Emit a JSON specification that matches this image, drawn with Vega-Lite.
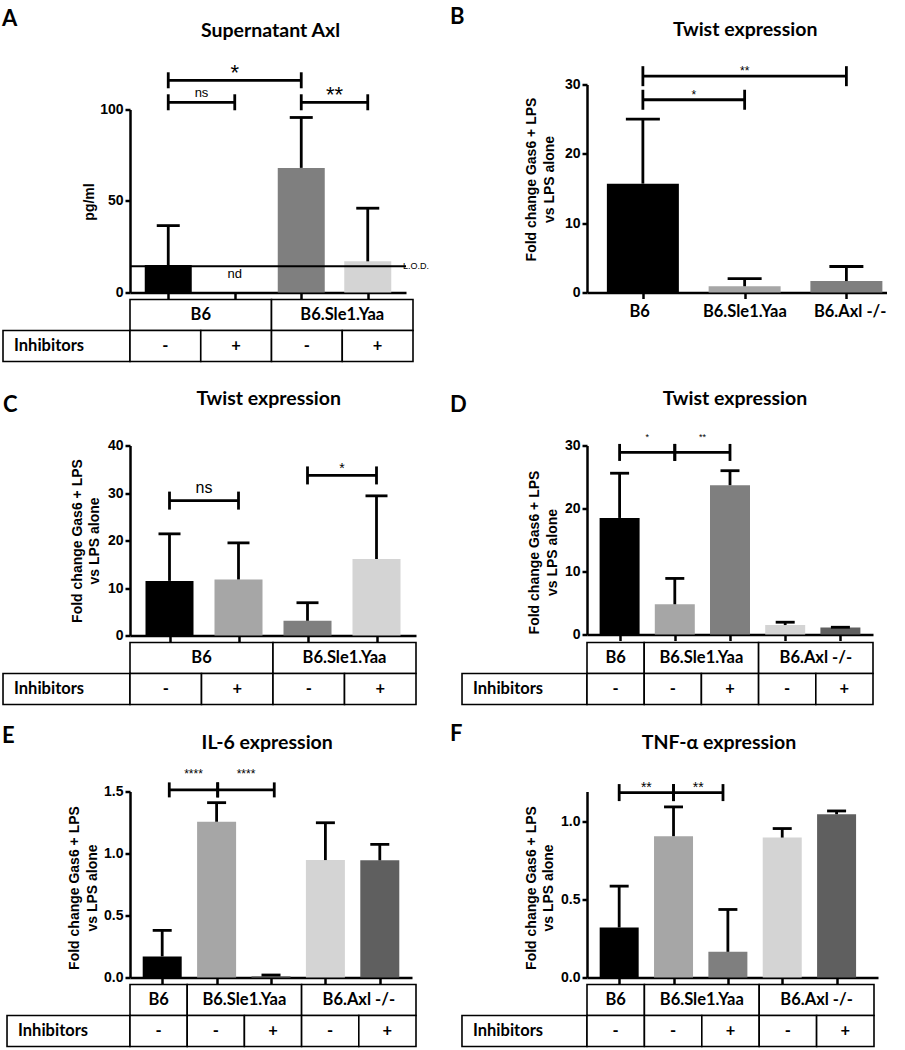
{
"$schema": "https://vega.github.io/schema/vega-lite/v6.json",
"background": "white",
"padding": {"left": 2, "top": 5.5, "right": 0, "bottom": 0},
"config": {
 "view": {"stroke": null},
 "font": "Liberation Sans",
 "axis": {"domainColor": "black", "domainWidth": 2.5, "tickColor": "black", "tickWidth": 2.5, "labelFont": "Liberation Sans", "labelFontWeight": "bold", "labelFontSize": 14, "labelColor": "black", "titleFont": "Liberation Sans", "titleFontWeight": "bold", "titleFontSize": 14, "titleColor": "black", "grid": false, "titleLineHeight": 17.5, "labelPadding": 2},
 "axisY": {"tickSize": 5},
 "axisX": {"tickSize": 6, "labels": false},
 "title": {"font": "Lato", "fontWeight": "bold", "color": "black", "fontSize": 22},
 "text": {"color": "black"},
 "rule": {"strokeWidth": 2.8, "color": "black"},
 "tick": {"thickness": 2.8, "color": "black", "opacity": 1}
},
"resolve": {"scale": {"color": "independent"}},
"datasets": {
 "barsA": [{"pos":1,"cond":"B6 -","value":15,"upper":36.5},{"pos":2,"cond":"B6 +","value":0,"note":"nd"},{"pos":3,"cond":"B6.Sle1.Yaa -","value":68,"upper":95.5},{"pos":4,"cond":"B6.Sle1.Yaa +","value":17,"upper":46}],
 "brA": [{"from":1,"to":2,"level":103.8,"label":"ns"},{"from":1,"to":3,"level":115.8,"label":"*"},{"from":3,"to":4,"level":103.8,"label":"**"}],
 "lodA": [{"lod":14.3,"label":"L.O.D."}],
 "tabA": [{"row":"s","c0":0.5,"c1":2.5,"label":"B6"},{"row":"s","c0":2.5,"c1":4.5,"label":"B6.Sle1.Yaa"},{"row":"i","c0":-1.295,"c1":0.5,"label":"Inhibitors"},{"row":"i","c0":0.5,"c1":1.5,"label":"-"},{"row":"i","c0":1.5,"c1":2.5,"label":"+"},{"row":"i","c0":2.5,"c1":3.5,"label":"-"},{"row":"i","c0":3.5,"c1":4.5,"label":"+"}],
 "barsB": [{"pos":1,"cond":"B6","value":15.7,"upper":25},{"pos":2,"cond":"B6.Sle1.Yaa","value":0.9,"upper":2.0},{"pos":3,"cond":"B6.Axl -/-","value":1.65,"upper":3.75}],
 "brB": [{"from":1,"to":2,"level":27.8,"label":"*"},{"from":1,"to":3,"level":31.2,"label":"**"}],
 "labB": [{"pos":1,"label":"B6"},{"pos":2,"label":"B6.Sle1.Yaa"},{"pos":3,"label":"B6.Axl -/-"}],
 "barsC": [{"pos":1,"cond":"B6 -","value":11.5,"upper":21.4},{"pos":2,"cond":"B6 +","value":11.8,"upper":19.5},{"pos":3,"cond":"B6.Sle1.Yaa -","value":3.1,"upper":6.9},{"pos":4,"cond":"B6.Sle1.Yaa +","value":16.1,"upper":29.4}],
 "brC": [{"from":1,"to":2,"level":28.4,"label":"ns"},{"from":3,"to":4,"level":33.7,"label":"*"}],
 "tabC": [{"row":"s","c0":0.5,"c1":2.5,"label":"B6"},{"row":"s","c0":2.5,"c1":4.5,"label":"B6.Sle1.Yaa"},{"row":"i","c0":-1.276,"c1":0.5,"label":"Inhibitors"},{"row":"i","c0":0.5,"c1":1.5,"label":"-"},{"row":"i","c0":1.5,"c1":2.5,"label":"+"},{"row":"i","c0":2.5,"c1":3.5,"label":"-"},{"row":"i","c0":3.5,"c1":4.5,"label":"+"}],
 "barsD": [{"pos":1,"cond":"B6 -","value":18.5,"upper":25.6},{"pos":2,"cond":"B6.Sle1.Yaa -","value":4.8,"upper":8.9},{"pos":3,"cond":"B6.Sle1.Yaa +","value":23.7,"upper":26.0},{"pos":4,"cond":"B6.Axl -/- -","value":1.5,"upper":1.95},{"pos":5,"cond":"B6.Axl -/- +","value":1.1,"upper":1.15}],
 "brD": [{"from":1,"to":2,"level":28.9,"label":"*"},{"from":2,"to":3,"level":28.9,"label":"**"}],
 "tabD": [{"row":"s","c0":0.5,"c1":1.5,"label":"B6"},{"row":"s","c0":1.5,"c1":3.5,"label":"B6.Sle1.Yaa"},{"row":"s","c0":3.5,"c1":5.5,"label":"B6.Axl -/-"},{"row":"i","c0":-1.685,"c1":0.5,"label":"Inhibitors"},{"row":"i","c0":0.5,"c1":1.5,"label":"-"},{"row":"i","c0":1.5,"c1":2.5,"label":"-"},{"row":"i","c0":2.5,"c1":3.5,"label":"+"},{"row":"i","c0":3.5,"c1":4.5,"label":"-"},{"row":"i","c0":4.5,"c1":5.5,"label":"+"}],
 "barsE": [{"pos":1,"cond":"B6 -","value":0.17,"upper":0.38},{"pos":2,"cond":"B6.Sle1.Yaa -","value":1.256,"upper":1.41},{"pos":3,"cond":"B6.Sle1.Yaa +","value":0.012,"upper":0.02},{"pos":4,"cond":"B6.Axl -/- -","value":0.947,"upper":1.248},{"pos":5,"cond":"B6.Axl -/- +","value":0.945,"upper":1.073}],
 "brE": [{"from":1.13,"to":2.02,"level":1.513,"label":"****"},{"from":2.02,"to":3.06,"level":1.513,"label":"****"}],
 "tabE": [{"row":"s","c0":0.5,"c1":1.5,"label":"B6"},{"row":"s","c0":1.5,"c1":3.5,"label":"B6.Sle1.Yaa"},{"row":"s","c0":3.5,"c1":5.5,"label":"B6.Axl -/-"},{"row":"i","c0":-1.65,"c1":0.5,"label":"Inhibitors"},{"row":"i","c0":0.5,"c1":1.5,"label":"-"},{"row":"i","c0":1.5,"c1":2.5,"label":"-"},{"row":"i","c0":2.5,"c1":3.5,"label":"+"},{"row":"i","c0":3.5,"c1":4.5,"label":"-"},{"row":"i","c0":4.5,"c1":5.5,"label":"+"}],
 "barsF": [{"pos":1,"cond":"B6 -","value":0.321,"upper":0.587},{"pos":2,"cond":"B6.Sle1.Yaa -","value":0.908,"upper":1.096},{"pos":3,"cond":"B6.Sle1.Yaa +","value":0.165,"upper":0.437},{"pos":4,"cond":"B6.Axl -/- -","value":0.899,"upper":0.957},{"pos":5,"cond":"B6.Axl -/- +","value":1.049,"upper":1.07}],
 "brF": [{"from":1,"to":2,"level":1.188,"label":"**"},{"from":2,"to":2.91,"level":1.188,"label":"**"}],
 "tabF": [{"row":"s","c0":0.5,"c1":1.5,"label":"B6"},{"row":"s","c0":1.5,"c1":3.5,"label":"B6.Sle1.Yaa"},{"row":"s","c0":3.5,"c1":5.5,"label":"B6.Axl -/-"},{"row":"i","c0":-1.678,"c1":0.5,"label":"Inhibitors"},{"row":"i","c0":0.5,"c1":1.5,"label":"-"},{"row":"i","c0":1.5,"c1":2.5,"label":"-"},{"row":"i","c0":2.5,"c1":3.5,"label":"+"},{"row":"i","c0":3.5,"c1":4.5,"label":"-"},{"row":"i","c0":4.5,"c1":5.5,"label":"+"}]
},
"columns": 2,
"spacing": {"row": 7, "column": 171},
"bounds": "flush",
"concat": [
 {
  "width": 276, "height": 208,
  "title": {"text": "A", "anchor": "start", "frame": "group", "dx": -128, "dy": 10.4, "offset": 0},
  "resolve": {"axis": {"x": "independent"}},
  "layer": [
   {"data": {"name": "barsA"}, "mark": {"type": "bar", "width": 47, "opacity": 1},
    "encoding": {
     "x": {"field": "pos", "type": "quantitative", "scale": {"domain": [0.5, 4.5], "nice": false, "zero": false}, "axis": {"orient": "bottom", "values": [1,2,3,4], "labels": false, "title": null}},
     "y": {"field": "value", "type": "quantitative", "stack": null, "scale": {"domain": [0, 113.5], "nice": false}, "axis": {"values": [0,50,100], "title": "pg/ml", "domainDash": [183, 400], "titlePadding": 3, "titleY": 117}},
     "color": {"field": "cond", "type": "nominal", "scale": {"domain": ["B6 -","B6 +","B6.Sle1.Yaa -","B6.Sle1.Yaa +"], "range": ["#000000","#ffffff","#7f7f7f","#d4d4d4"]}, "legend": null}}},
   {"data": {"name": "barsA"}, "transform": [{"filter": "isValid(datum.upper)"}], "mark": {"type": "rule"},
    "encoding": {"x": {"field": "pos", "type": "quantitative", "axis": null}, "y": {"field": "value", "type": "quantitative"}, "y2": {"field": "upper"}}},
   {"data": {"name": "barsA"}, "transform": [{"filter": "isValid(datum.upper)"}], "mark": {"type": "tick", "orient": "horizontal", "size": 23},
    "encoding": {"x": {"field": "pos", "type": "quantitative", "axis": null}, "y": {"field": "upper", "type": "quantitative"}}},
   {"data": {"name": "barsA"}, "transform": [{"filter": "isValid(datum.note)"}], "mark": {"type": "text", "fontSize": 13, "baseline": "alphabetic", "dy": -15},
    "encoding": {"x": {"field": "pos", "type": "quantitative", "axis": null}, "y": {"field": "value", "type": "quantitative"}, "text": {"field": "note"}}},
   {"data": {"name": "lodA"}, "mark": {"type": "rule", "strokeWidth": 2},
    "encoding": {"y": {"field": "lod", "type": "quantitative"}}},
   {"data": {"name": "lodA"}, "mark": {"type": "text", "fontSize": 9, "align": "left", "baseline": "middle", "dx": 2},
    "encoding": {"x": {"datum": 4.5, "type": "quantitative", "axis": null}, "y": {"field": "lod", "type": "quantitative"}, "text": {"field": "label"}}},
   {"data": {"name": "brA"}, "mark": {"type": "rule"},
    "encoding": {"x": {"field": "from", "type": "quantitative", "axis": {"orient": "top", "domain": false, "ticks": false, "labels": false, "title": "Supernatant Axl", "titleFont": "Lato", "titleFontSize": 19.5, "titleX": 140, "titleY": -48, "titleAlign": "center", "titleBaseline": "alphabetic", "titleAngle": 0}}, "x2": {"field": "to"}, "y": {"field": "level", "type": "quantitative"}}},
   {"data": {"name": "brA"}, "transform": [{"fold": ["from","to"], "as": ["end","xe"]}], "mark": {"type": "tick", "orient": "vertical", "size": 16},
    "encoding": {"x": {"field": "xe", "type": "quantitative", "axis": null}, "y": {"field": "level", "type": "quantitative"}}},
   {"data": {"name": "brA"}, "transform": [{"filter": "datum.label == 'ns'"}, {"fold": ["from","to"], "as": ["end","xe"]}, {"aggregate": [{"op": "mean", "field": "xe", "as": "xm"}], "groupby": ["label","level","from"]}], "mark": {"type": "text", "fontSize": 13, "baseline": "alphabetic", "dy": -5},
    "encoding": {"x": {"field": "xm", "type": "quantitative", "axis": null}, "y": {"field": "level", "type": "quantitative"}, "text": {"field": "label"}}},
   {"data": {"name": "brA"}, "transform": [{"filter": "datum.label != 'ns'"}, {"fold": ["from","to"], "as": ["end","xe"]}, {"aggregate": [{"op": "mean", "field": "xe", "as": "xm"}], "groupby": ["label","level","from"]}], "mark": {"type": "text", "fontSize": 22, "baseline": "alphabetic", "dy": 0},
    "encoding": {"x": {"field": "xm", "type": "quantitative", "axis": null}, "y": {"field": "level", "type": "quantitative"}, "text": {"field": "label"}}}
  ]
 },
 {
  "width": 300, "height": 208,
  "title": {"text": "B", "anchor": "start", "frame": "group", "dx": -137, "dy": 9.4, "offset": 0},
  "resolve": {"axis": {"x": "independent"}},
  "layer": [
   {"data": {"name": "barsB"}, "mark": {"type": "bar", "width": 72, "opacity": 1},
    "encoding": {
     "x": {"field": "pos", "type": "quantitative", "scale": {"domain": [0.5, 3.35], "nice": false, "zero": false}, "axis": {"orient": "bottom", "values": [1,2,3], "labels": false, "title": null}},
     "y": {"field": "value", "type": "quantitative", "stack": null, "scale": {"domain": [0, 30], "nice": false}, "axis": {"values": [0,10,20,30], "title": ["Fold change Gas6 + LPS", "vs LPS alone"], "titlePadding": 8.4, "titleY": 94.5}},
     "color": {"field": "cond", "type": "nominal", "scale": {"domain": ["B6","B6.Sle1.Yaa","B6.Axl -/-"], "range": ["#000000","#a6a6a6","#7f7f7f"]}, "legend": null}}},
   {"data": {"name": "barsB"}, "mark": {"type": "rule"},
    "encoding": {"x": {"field": "pos", "type": "quantitative", "axis": null}, "y": {"field": "value", "type": "quantitative"}, "y2": {"field": "upper"}}},
   {"data": {"name": "barsB"}, "mark": {"type": "tick", "orient": "horizontal", "size": 34},
    "encoding": {"x": {"field": "pos", "type": "quantitative", "axis": null}, "y": {"field": "upper", "type": "quantitative"}}},
   {"data": {"name": "brB"}, "mark": {"type": "rule"},
    "encoding": {"x": {"field": "from", "type": "quantitative", "axis": {"orient": "top", "domain": false, "ticks": false, "labels": false, "title": "Twist expression", "titleFont": "Lato", "titleFontSize": 19.5, "titleX": 157.7, "titleY": -48.7, "titleAlign": "center", "titleBaseline": "alphabetic", "titleAngle": 0}}, "x2": {"field": "to"}, "y": {"field": "level", "type": "quantitative"}}},
   {"data": {"name": "brB"}, "transform": [{"fold": ["from","to"], "as": ["end","xe"]}], "mark": {"type": "tick", "orient": "vertical", "size": 20},
    "encoding": {"x": {"field": "xe", "type": "quantitative", "axis": null}, "y": {"field": "level", "type": "quantitative"}}},
   {"data": {"name": "brB"}, "transform": [{"fold": ["from","to"], "as": ["end","xe"]}, {"aggregate": [{"op": "mean", "field": "xe", "as": "xm"}], "groupby": ["label","level","from"]}], "mark": {"type": "text", "fontSize": 12, "baseline": "alphabetic", "dy": -1},
    "encoding": {"x": {"field": "xm", "type": "quantitative", "axis": null}, "y": {"field": "level", "type": "quantitative"}, "text": {"field": "label"}}}
  ]
 },
 {
  "width": 283, "height": 139, "data": {"name": "tabA"},
  "layer": [
   {"mark": {"type": "rect", "fill": "white", "stroke": "black", "strokeWidth": 1.6},
    "encoding": {"x": {"field": "c0", "type": "quantitative", "scale": {"domain": [0.5, 4.5], "nice": false, "zero": false}, "axis": null}, "x2": {"field": "c1"}, "y": {"field": "row", "type": "nominal", "scale": {"domain": ["s","i"], "range": [0, 62], "paddingInner": 0, "paddingOuter": 0}, "axis": null}}},
   {"transform": [{"filter": "datum.label != 'Inhibitors'"}, {"fold": ["c0","c1"], "as": ["edge","cv"]}, {"aggregate": [{"op": "mean", "field": "cv", "as": "cx"}], "groupby": ["row","label","c0"]}], "mark": {"type": "text", "font": "Lato", "fontWeight": "bold", "fontSize": 16.5},
    "encoding": {"x": {"field": "cx", "type": "quantitative", "axis": null}, "y": {"field": "row", "type": "nominal", "axis": null}, "text": {"field": "label"}}},
   {"transform": [{"filter": "datum.label == 'Inhibitors'"}], "mark": {"type": "text", "font": "Lato", "fontWeight": "bold", "fontSize": 16.5, "align": "left", "dx": 11},
    "encoding": {"x": {"field": "c0", "type": "quantitative", "axis": null}, "y": {"field": "row", "type": "nominal", "axis": null}, "text": {"field": "label"}}}
  ]
 },
 {
  "width": 300, "height": 24, "data": {"name": "labB"},
  "mark": {"type": "text", "font": "Lato", "fontWeight": "bold", "fontSize": 16.5},
  "encoding": {"x": {"field": "pos", "type": "quantitative", "scale": {"domain": [0.5, 3.35], "nice": false, "zero": false}, "axis": null}, "text": {"field": "label"}}
 },
 {
  "width": 286, "height": 190,
  "title": {"text": "C", "anchor": "start", "frame": "group", "dx": -127, "dy": 29, "offset": 0},
  "resolve": {"axis": {"x": "independent"}},
  "layer": [
   {"data": {"name": "barsC"}, "mark": {"type": "bar", "width": 48, "opacity": 1},
    "encoding": {
     "x": {"field": "pos", "type": "quantitative", "scale": {"domain": [0.5, 4.5], "nice": false, "zero": false}, "axis": {"orient": "bottom", "values": [1,2,3,4], "labels": false, "title": null}},
     "y": {"field": "value", "type": "quantitative", "stack": null, "scale": {"domain": [0, 40], "nice": false}, "axis": {"values": [0,10,20,30,40], "title": ["Fold change Gas6 + LPS", "vs LPS alone"], "titlePadding": 5.6}},
     "color": {"field": "cond", "type": "nominal", "scale": {"domain": ["B6 -","B6 +","B6.Sle1.Yaa -","B6.Sle1.Yaa +"], "range": ["#000000","#a6a6a6","#7f7f7f","#d4d4d4"]}, "legend": null}}},
   {"data": {"name": "barsC"}, "mark": {"type": "rule"},
    "encoding": {"x": {"field": "pos", "type": "quantitative", "axis": null}, "y": {"field": "value", "type": "quantitative"}, "y2": {"field": "upper"}}},
   {"data": {"name": "barsC"}, "mark": {"type": "tick", "orient": "horizontal", "size": 22},
    "encoding": {"x": {"field": "pos", "type": "quantitative", "axis": null}, "y": {"field": "upper", "type": "quantitative"}}},
   {"data": {"name": "brC"}, "mark": {"type": "rule"},
    "encoding": {"x": {"field": "from", "type": "quantitative", "axis": {"orient": "top", "domain": false, "ticks": false, "labels": false, "title": "Twist expression", "titleFont": "Lato", "titleFontSize": 19.5, "titleX": 138.3, "titleY": -41.3, "titleAlign": "center", "titleBaseline": "alphabetic", "titleAngle": 0}}, "x2": {"field": "to"}, "y": {"field": "level", "type": "quantitative"}}},
   {"data": {"name": "brC"}, "transform": [{"fold": ["from","to"], "as": ["end","xe"]}], "mark": {"type": "tick", "orient": "vertical", "size": 18},
    "encoding": {"x": {"field": "xe", "type": "quantitative", "axis": null}, "y": {"field": "level", "type": "quantitative"}}},
   {"data": {"name": "brC"}, "transform": [{"filter": "datum.label == 'ns'"}, {"fold": ["from","to"], "as": ["end","xe"]}, {"aggregate": [{"op": "mean", "field": "xe", "as": "xm"}], "groupby": ["label","level","from"]}], "mark": {"type": "text", "fontSize": 16, "baseline": "alphabetic", "dy": -8},
    "encoding": {"x": {"field": "xm", "type": "quantitative", "axis": null}, "y": {"field": "level", "type": "quantitative"}, "text": {"field": "label"}}},
   {"data": {"name": "brC"}, "transform": [{"filter": "datum.label != 'ns'"}, {"fold": ["from","to"], "as": ["end","xe"]}, {"aggregate": [{"op": "mean", "field": "xe", "as": "xm"}], "groupby": ["label","level","from"]}], "mark": {"type": "text", "fontSize": 14, "baseline": "alphabetic", "dy": -2},
    "encoding": {"x": {"field": "xm", "type": "quantitative", "axis": null}, "y": {"field": "level", "type": "quantitative"}, "text": {"field": "label"}}}
  ]
 },
 {
  "width": 286, "height": 189,
  "title": {"text": "D", "anchor": "start", "frame": "group", "dx": -137, "dy": 29, "offset": 0},
  "resolve": {"axis": {"x": "independent"}},
  "layer": [
   {"data": {"name": "barsD"}, "mark": {"type": "bar", "width": 40, "opacity": 1},
    "encoding": {
     "x": {"field": "pos", "type": "quantitative", "scale": {"domain": [0.5, 5.5], "nice": false, "zero": false}, "axis": {"orient": "bottom", "values": [1,2,3,4,5], "labels": false, "title": null}},
     "y": {"field": "value", "type": "quantitative", "stack": null, "scale": {"domain": [0, 30], "nice": false}, "axis": {"values": [0,10,20,30], "title": ["Fold change Gas6 + LPS", "vs LPS alone"], "titlePadding": 5, "titleY": 106.5}},
     "color": {"field": "cond", "type": "nominal", "scale": {"domain": ["B6 -","B6.Sle1.Yaa -","B6.Sle1.Yaa +","B6.Axl -/- -","B6.Axl -/- +"], "range": ["#000000","#a6a6a6","#7f7f7f","#d4d4d4","#5f5f5f"]}, "legend": null}}},
   {"data": {"name": "barsD"}, "mark": {"type": "rule"},
    "encoding": {"x": {"field": "pos", "type": "quantitative", "axis": null}, "y": {"field": "value", "type": "quantitative"}, "y2": {"field": "upper"}}},
   {"data": {"name": "barsD"}, "mark": {"type": "tick", "orient": "horizontal", "size": 19},
    "encoding": {"x": {"field": "pos", "type": "quantitative", "axis": null}, "y": {"field": "upper", "type": "quantitative"}}},
   {"data": {"name": "brD"}, "mark": {"type": "rule"},
    "encoding": {"x": {"field": "from", "type": "quantitative", "axis": {"orient": "top", "domain": false, "ticks": false, "labels": false, "title": "Twist expression", "titleFont": "Lato", "titleFontSize": 19.5, "titleX": 147.5, "titleY": -41.3, "titleAlign": "center", "titleBaseline": "alphabetic", "titleAngle": 0}}, "x2": {"field": "to"}, "y": {"field": "level", "type": "quantitative"}}},
   {"data": {"name": "brD"}, "transform": [{"fold": ["from","to"], "as": ["end","xe"]}], "mark": {"type": "tick", "orient": "vertical", "size": 17},
    "encoding": {"x": {"field": "xe", "type": "quantitative", "axis": null}, "y": {"field": "level", "type": "quantitative"}}},
   {"data": {"name": "brD"}, "transform": [{"fold": ["from","to"], "as": ["end","xe"]}, {"aggregate": [{"op": "mean", "field": "xe", "as": "xm"}], "groupby": ["label","level","from"]}], "mark": {"type": "text", "fontSize": 9, "baseline": "alphabetic", "dy": -12},
    "encoding": {"x": {"field": "xm", "type": "quantitative", "axis": null}, "y": {"field": "level", "type": "quantitative"}, "text": {"field": "label"}}}
  ]
 },
 {
  "width": 286, "height": 142, "data": {"name": "tabC"},
  "layer": [
   {"mark": {"type": "rect", "fill": "white", "stroke": "black", "strokeWidth": 1.6},
    "encoding": {"x": {"field": "c0", "type": "quantitative", "scale": {"domain": [0.5, 4.5], "nice": false, "zero": false}, "axis": null}, "x2": {"field": "c1"}, "y": {"field": "row", "type": "nominal", "scale": {"domain": ["s","i"], "range": [0, 62], "paddingInner": 0, "paddingOuter": 0}, "axis": null}}},
   {"transform": [{"filter": "datum.label != 'Inhibitors'"}, {"fold": ["c0","c1"], "as": ["edge","cv"]}, {"aggregate": [{"op": "mean", "field": "cv", "as": "cx"}], "groupby": ["row","label","c0"]}], "mark": {"type": "text", "font": "Lato", "fontWeight": "bold", "fontSize": 16.5},
    "encoding": {"x": {"field": "cx", "type": "quantitative", "axis": null}, "y": {"field": "row", "type": "nominal", "axis": null}, "text": {"field": "label"}}},
   {"transform": [{"filter": "datum.label == 'Inhibitors'"}], "mark": {"type": "text", "font": "Lato", "fontWeight": "bold", "fontSize": 16.5, "align": "left", "dx": 11},
    "encoding": {"x": {"field": "c0", "type": "quantitative", "axis": null}, "y": {"field": "row", "type": "nominal", "axis": null}, "text": {"field": "label"}}}
  ]
 },
 {
  "width": 286, "height": 142, "data": {"name": "tabD"},
  "layer": [
   {"mark": {"type": "rect", "fill": "white", "stroke": "black", "strokeWidth": 1.6},
    "encoding": {"x": {"field": "c0", "type": "quantitative", "scale": {"domain": [0.5, 5.5], "nice": false, "zero": false}, "axis": null}, "x2": {"field": "c1"}, "y": {"field": "row", "type": "nominal", "scale": {"domain": ["s","i"], "range": [0, 62], "paddingInner": 0, "paddingOuter": 0}, "axis": null}}},
   {"transform": [{"filter": "datum.label != 'Inhibitors'"}, {"fold": ["c0","c1"], "as": ["edge","cv"]}, {"aggregate": [{"op": "mean", "field": "cv", "as": "cx"}], "groupby": ["row","label","c0"]}], "mark": {"type": "text", "font": "Lato", "fontWeight": "bold", "fontSize": 16.5},
    "encoding": {"x": {"field": "cx", "type": "quantitative", "axis": null}, "y": {"field": "row", "type": "nominal", "axis": null}, "text": {"field": "label"}}},
   {"transform": [{"filter": "datum.label == 'Inhibitors'"}], "mark": {"type": "text", "font": "Lato", "fontWeight": "bold", "fontSize": 16.5, "align": "left", "dx": 11},
    "encoding": {"x": {"field": "c0", "type": "quantitative", "axis": null}, "y": {"field": "row", "type": "nominal", "axis": null}, "text": {"field": "label"}}}
  ]
 },
 {
  "width": 282, "height": 186,
  "title": {"text": "E", "anchor": "start", "frame": "group", "dx": -128, "dy": 15.3, "offset": 0},
  "resolve": {"axis": {"x": "independent"}},
  "layer": [
   {"data": {"name": "barsE"}, "mark": {"type": "bar", "width": 39, "opacity": 1},
    "encoding": {
     "x": {"field": "pos", "type": "quantitative", "scale": {"domain": [0.5, 5.5], "nice": false, "zero": false}, "axis": {"orient": "bottom", "values": [1,2,3,4,5], "labels": false, "title": null}},
     "y": {"field": "value", "type": "quantitative", "stack": null, "scale": {"domain": [0, 1.5], "nice": false}, "axis": {"values": [0,0.5,1,1.5], "format": ".1f", "title": ["Fold change Gas6 + LPS", "vs LPS alone"], "titlePadding": 4.2, "titleY": 96}},
     "color": {"field": "cond", "type": "nominal", "scale": {"domain": ["B6 -","B6.Sle1.Yaa -","B6.Sle1.Yaa +","B6.Axl -/- -","B6.Axl -/- +"], "range": ["#000000","#a6a6a6","#7f7f7f","#d4d4d4","#5f5f5f"]}, "legend": null}}},
   {"data": {"name": "barsE"}, "mark": {"type": "rule"},
    "encoding": {"x": {"field": "pos", "type": "quantitative", "axis": null}, "y": {"field": "value", "type": "quantitative"}, "y2": {"field": "upper"}}},
   {"data": {"name": "barsE"}, "mark": {"type": "tick", "orient": "horizontal", "size": 19},
    "encoding": {"x": {"field": "pos", "type": "quantitative", "axis": null}, "y": {"field": "upper", "type": "quantitative"}}},
   {"data": {"name": "brE"}, "mark": {"type": "rule"},
    "encoding": {"x": {"field": "from", "type": "quantitative", "axis": {"orient": "top", "domain": false, "ticks": false, "labels": false, "title": "IL-6 expression", "titleFont": "Lato", "titleFontSize": 19.5, "titleX": 136.7, "titleY": -43.3, "titleAlign": "center", "titleBaseline": "alphabetic", "titleAngle": 0}}, "x2": {"field": "to"}, "y": {"field": "level", "type": "quantitative"}}},
   {"data": {"name": "brE"}, "transform": [{"fold": ["from","to"], "as": ["end","xe"]}], "mark": {"type": "tick", "orient": "vertical", "size": 15},
    "encoding": {"x": {"field": "xe", "type": "quantitative", "axis": null}, "y": {"field": "level", "type": "quantitative"}}},
   {"data": {"name": "brE"}, "transform": [{"fold": ["from","to"], "as": ["end","xe"]}, {"aggregate": [{"op": "mean", "field": "xe", "as": "xm"}], "groupby": ["label","level","from"]}], "mark": {"type": "text", "fontSize": 12, "baseline": "alphabetic", "dy": -11.5},
    "encoding": {"x": {"field": "xm", "type": "quantitative", "axis": null}, "y": {"field": "level", "type": "quantitative"}, "text": {"field": "label"}}}
  ]
 },
 {
  "width": 291, "height": 186,
  "title": {"text": "F", "anchor": "start", "frame": "group", "dx": -137, "dy": 13.7, "offset": 0},
  "resolve": {"axis": {"x": "independent"}},
  "layer": [
   {"data": {"name": "barsF"}, "mark": {"type": "bar", "width": 39, "opacity": 1},
    "encoding": {
     "x": {"field": "pos", "type": "quantitative", "scale": {"domain": [0.5, 5.67], "nice": false, "zero": false}, "axis": {"orient": "bottom", "values": [1,2,3,4,5], "labels": false, "title": null}},
     "y": {"field": "value", "type": "quantitative", "stack": null, "scale": {"domain": [0, 1.195], "nice": false}, "axis": {"values": [0,0.5,1], "format": ".1f", "title": ["Fold change Gas6 + LPS", "vs LPS alone"], "titlePadding": 4.7, "titleY": 96}},
     "color": {"field": "cond", "type": "nominal", "scale": {"domain": ["B6 -","B6.Sle1.Yaa -","B6.Sle1.Yaa +","B6.Axl -/- -","B6.Axl -/- +"], "range": ["#000000","#a6a6a6","#7f7f7f","#d4d4d4","#5f5f5f"]}, "legend": null}}},
   {"data": {"name": "barsF"}, "mark": {"type": "rule"},
    "encoding": {"x": {"field": "pos", "type": "quantitative", "axis": null}, "y": {"field": "value", "type": "quantitative"}, "y2": {"field": "upper"}}},
   {"data": {"name": "barsF"}, "mark": {"type": "tick", "orient": "horizontal", "size": 19},
    "encoding": {"x": {"field": "pos", "type": "quantitative", "axis": null}, "y": {"field": "upper", "type": "quantitative"}}},
   {"data": {"name": "brF"}, "mark": {"type": "rule"},
    "encoding": {"x": {"field": "from", "type": "quantitative", "axis": {"orient": "top", "domain": false, "ticks": false, "labels": false, "title": "TNF-α expression", "titleFont": "Lato", "titleFontSize": 19.5, "titleX": 131.5, "titleY": -43.3, "titleAlign": "center", "titleBaseline": "alphabetic", "titleAngle": 0}}, "x2": {"field": "to"}, "y": {"field": "level", "type": "quantitative"}}},
   {"data": {"name": "brF"}, "transform": [{"fold": ["from","to"], "as": ["end","xe"]}], "mark": {"type": "tick", "orient": "vertical", "size": 17},
    "encoding": {"x": {"field": "xe", "type": "quantitative", "axis": null}, "y": {"field": "level", "type": "quantitative"}}},
   {"data": {"name": "brF"}, "transform": [{"fold": ["from","to"], "as": ["end","xe"]}, {"aggregate": [{"op": "mean", "field": "xe", "as": "xm"}], "groupby": ["label","level","from"]}], "mark": {"type": "text", "fontSize": 14, "baseline": "alphabetic", "dy": -1},
    "encoding": {"x": {"field": "xm", "type": "quantitative", "axis": null}, "y": {"field": "level", "type": "quantitative"}, "text": {"field": "label"}}}
  ]
 },
 {
  "width": 286, "height": 62, "data": {"name": "tabE"},
  "layer": [
   {"mark": {"type": "rect", "fill": "white", "stroke": "black", "strokeWidth": 1.6},
    "encoding": {"x": {"field": "c0", "type": "quantitative", "scale": {"domain": [0.5, 5.5], "nice": false, "zero": false}, "axis": null}, "x2": {"field": "c1"}, "y": {"field": "row", "type": "nominal", "scale": {"domain": ["s","i"], "paddingInner": 0, "paddingOuter": 0}, "axis": null}}},
   {"transform": [{"filter": "datum.label != 'Inhibitors'"}, {"fold": ["c0","c1"], "as": ["edge","cv"]}, {"aggregate": [{"op": "mean", "field": "cv", "as": "cx"}], "groupby": ["row","label","c0"]}], "mark": {"type": "text", "font": "Lato", "fontWeight": "bold", "fontSize": 16.5},
    "encoding": {"x": {"field": "cx", "type": "quantitative", "axis": null}, "y": {"field": "row", "type": "nominal", "axis": null}, "text": {"field": "label"}}},
   {"transform": [{"filter": "datum.label == 'Inhibitors'"}], "mark": {"type": "text", "font": "Lato", "fontWeight": "bold", "fontSize": 16.5, "align": "left", "dx": 11},
    "encoding": {"x": {"field": "c0", "type": "quantitative", "axis": null}, "y": {"field": "row", "type": "nominal", "axis": null}, "text": {"field": "label"}}}
  ]
 },
 {
  "width": 287, "height": 62, "data": {"name": "tabF"},
  "layer": [
   {"mark": {"type": "rect", "fill": "white", "stroke": "black", "strokeWidth": 1.6},
    "encoding": {"x": {"field": "c0", "type": "quantitative", "scale": {"domain": [0.5, 5.5], "nice": false, "zero": false}, "axis": null}, "x2": {"field": "c1"}, "y": {"field": "row", "type": "nominal", "scale": {"domain": ["s","i"], "paddingInner": 0, "paddingOuter": 0}, "axis": null}}},
   {"transform": [{"filter": "datum.label != 'Inhibitors'"}, {"fold": ["c0","c1"], "as": ["edge","cv"]}, {"aggregate": [{"op": "mean", "field": "cv", "as": "cx"}], "groupby": ["row","label","c0"]}], "mark": {"type": "text", "font": "Lato", "fontWeight": "bold", "fontSize": 16.5},
    "encoding": {"x": {"field": "cx", "type": "quantitative", "axis": null}, "y": {"field": "row", "type": "nominal", "axis": null}, "text": {"field": "label"}}},
   {"transform": [{"filter": "datum.label == 'Inhibitors'"}], "mark": {"type": "text", "font": "Lato", "fontWeight": "bold", "fontSize": 16.5, "align": "left", "dx": 11},
    "encoding": {"x": {"field": "c0", "type": "quantitative", "axis": null}, "y": {"field": "row", "type": "nominal", "axis": null}, "text": {"field": "label"}}}
  ]
 }
]
}
